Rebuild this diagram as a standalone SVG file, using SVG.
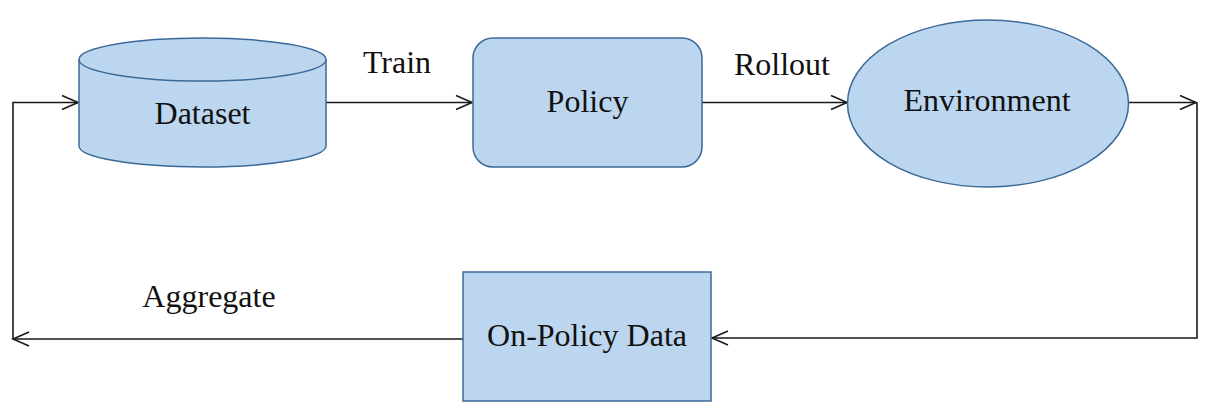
<svg xmlns="http://www.w3.org/2000/svg" width="1217" height="414" viewBox="0 0 1217 414">
<style>
.node{fill:#bcd6ef;stroke:#3b6a98;stroke-width:1.5}
.lbl{font-family:"Liberation Serif","Times New Roman",serif;font-size:32px;fill:#111;text-anchor:middle}
.conn{fill:none;stroke:#1a1a1a;stroke-width:1.6}
</style>
<defs>
<marker id="arr" viewBox="0 0 20 20" refX="18" refY="10" markerWidth="20" markerHeight="20" markerUnits="userSpaceOnUse" orient="auto">
<path d="M2,3 L18,10 L2,17" fill="none" stroke="#1a1a1a" stroke-width="1.6"/>
</marker>
</defs>
<rect width="1217" height="414" fill="#fff"/>
<g id="connectors">
<path class="conn" d="M326,102.5 H472" marker-end="url(#arr)"/>
<path class="conn" d="M702,102.5 H847" marker-end="url(#arr)"/>
<path class="conn" d="M1128,102.5 H1196" marker-end="url(#arr)"/>
<path class="conn" d="M1197,102.5 V338 H712" marker-end="url(#arr)"/>
<path class="conn" d="M463,339 H13" marker-end="url(#arr)"/>
<path class="conn" d="M13,339 V102.5 H78" marker-end="url(#arr)"/>
<text class="lbl" x="397" y="73">Train</text>
<text class="lbl" x="782" y="75">Rollout</text>
<text class="lbl" x="209" y="307">Aggregate</text>
</g>
<g id="dataset">
<path class="node" d="M79,59.5 V146 A123.5,21 0 0 0 326,146 V59.5"/>
<ellipse class="node" cx="202.5" cy="59.5" rx="123.5" ry="21.5"/>
<text class="lbl" x="202.5" y="124">Dataset</text>
</g>
<g id="policy">
<rect class="node" x="473" y="38" width="229" height="129" rx="20" ry="20"/>
<text class="lbl" x="587.5" y="112">Policy</text>
</g>
<g id="environment">
<ellipse class="node" cx="988" cy="103.5" rx="140.5" ry="83.5"/>
<text class="lbl" x="987" y="111">Environment</text>
</g>
<g id="onpolicy">
<rect class="node" x="463" y="272" width="248" height="129"/>
<text class="lbl" x="587" y="346">On-Policy Data</text>
</g>
</svg>
